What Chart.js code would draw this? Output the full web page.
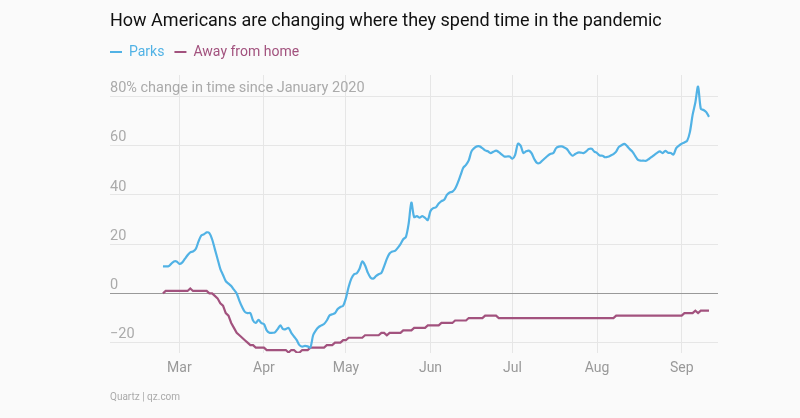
<!DOCTYPE html>
<html>
<head>
<meta charset="utf-8">
<script src="https://cdn.jsdelivr.net/npm/chart.js@4.4.1/dist/chart.umd.min.js"></script>
<style>
  html, body { margin: 0; background: #fafafa; }
  #wrap { width: 800px; height: 418px; }
</style>
</head>
<body>
<div id="wrap"><canvas id="chart"></canvas></div>
<script>
// daily values, first point is Feb 24 2020
const firstDate = '2020-02-24';
const parks = [
  11, 11, 11, 12, 13, 13,
  12, 12.5, 14, 15.5, 16.7, 17, 18, 21, 23.5, 24,
  24.8, 24.5, 22, 18, 14, 10, 7.5, 5, 4, 3,
  1.5, 0, -3, -5.5, -7.5, -8, -8, -11, -12, -10.7,
  -12, -12.5, -15, -16, -16, -15.8, -14.5, -13, -14.5, -14.5,
  -14, -16, -17.5, -19, -21, -21.6, -21.3, -21.5, -22, -17,
  -15, -13.7, -13, -12.4, -11, -9, -8.5, -8, -6.3, -5.5,
  -5, -2, 2.6, 6, 7.8, 8.2, 10, 13, 11.4, 8.5,
  6.5, 6, 7, 7.8, 8.3, 11, 14, 16.2, 17, 17.3,
  18.5, 20, 22, 23, 28.4, 36.9, 31, 31.4, 30.8, 31.4,
  30.7, 29.8, 33.5, 34.6, 35, 36.5, 37.5, 38, 40, 41,
  41.3, 42.5, 45, 48, 51, 52.2, 54, 57.7, 59, 59.7,
  59.7, 59, 58.1, 57.7, 57, 57.5, 58, 57.4, 56.5, 55.6,
  55.6, 55.6, 54.7, 56.3, 60.8, 60, 57, 57.7, 58, 57,
  54.6, 53, 53, 54, 55, 56, 56.7, 57, 59, 59.6,
  59.7, 59.3, 58.6, 57, 55.9, 56.6, 57.2, 57.2, 57, 57.7,
  58.6, 58.7, 57.6, 57, 56, 55.9, 55.3, 55.5, 56, 56.6,
  57.6, 59.5, 60.2, 60.7, 59.8, 58.6, 57.5, 55.8, 54.2, 53.9,
  53.9, 53.9, 54.6, 55.4, 56.3, 57.1, 57.7, 57, 57.9, 57.1,
  57, 56.4, 59, 60, 60.8, 61.3, 62, 65.5, 72.5, 77.5,
  84, 75, 74.5, 73.6, 71.7
];
const awayFromHome = [
  0, 1, 1, 1, 1, 1,
  1, 1, 1, 1, 2, 1, 1, 1, 1, 1,
  1, 0, 0, -1, -2, -4, -5, -8, -9, -12,
  -14, -16, -17, -18, -19, -20, -21, -21, -22, -22,
  -22, -22, -23, -23, -23, -23, -23, -23, -23, -23,
  -24, -23, -23, -24, -24, -23, -23, -23, -22, -22,
  -22, -22, -22, -22, -21, -21, -21, -20, -20, -20,
  -19, -19, -18, -18, -18, -18, -18, -18, -17, -17,
  -17, -17, -17, -17, -16, -16, -17, -16, -16, -16,
  -16, -16, -15, -15, -15, -15, -14, -14, -14, -14,
  -14, -13, -13, -13, -13, -13, -12, -12, -12, -12,
  -12, -11, -11, -11, -11, -11, -10, -10, -10, -10,
  -10, -10, -9, -9, -9, -9, -9, -10, -10, -10,
  -10, -10, -10, -10, -10, -10, -10, -10, -10, -10,
  -10, -10, -10, -10, -10, -10, -10, -10, -10, -10,
  -10, -10, -10, -10, -10, -10, -10, -10, -10, -10,
  -10, -10, -10, -10, -10, -10, -10, -10, -10, -10,
  -9, -9, -9, -9, -9, -9, -9, -9, -9, -9,
  -9, -9, -9, -9, -9, -9, -9, -9, -9, -9,
  -9, -9, -9, -9, -9, -8, -8, -8, -8, -7,
  -8, -7, -7, -7, -7
];
const monthStarts = ['2020-03-01', '2020-04-01', '2020-05-01', '2020-06-01', '2020-07-01', '2020-08-01', '2020-09-01'];
const monthLabels = ['Mar', 'Apr', 'May', 'Jun', 'Jul', 'Aug', 'Sep'];
const yTicks = [-20, 0, 20, 40, 60, 80];
const yTickLabels = ['\u221220', '0', '20', '40', '60', '80% change in time since January 2020'];

const dayNum = s => Date.parse(s + 'T00:00:00Z') / 86400000;
const start = dayNum(firstDate);
const toPoints = vals => vals.map((v, i) => ({ x: start + i, y: v }));
const mar1 = dayNum('2020-03-01');

Chart.defaults.font.family = 'Roboto, "Liberation Sans", sans-serif';

// legend: a bit more room below it, and flush with the plot's left edge
const legendTweak = {
  id: 'legendTweak',
  beforeInit(chart) {
    const fit = chart.legend.fit;
    chart.legend.fit = function () {
      fit.call(this);
      this.height += 6;
    };
  },
  afterLayout(chart) {
    chart.legend.left -= 10;
  }
};

new Chart(document.getElementById('chart'), {
  type: 'line',
  data: {
    datasets: [
      { label: 'Parks', data: toPoints(parks), borderColor: '#51b2e5', borderWidth: 2.2, pointRadius: 0, tension: 0.3 },
      { label: 'Away from home', data: toPoints(awayFromHome), borderColor: '#a2527e', borderWidth: 2.2, pointRadius: 0, tension: 0 }
    ]
  },
  options: {
    responsive: true,
    maintainAspectRatio: false,
    animation: false,
    events: [],
    layout: { padding: { left: 110, right: 82, top: 0, bottom: 15 } },
    plugins: {
      title: {
        display: true,
        text: 'How Americans are changing where they spend time in the pandemic',
        align: 'start',
        color: '#111',
        font: { size: 18, weight: 'normal' },
        padding: { top: 11, bottom: 2.4 }
      },
      subtitle: {
        display: true,
        position: 'bottom',
        align: 'start',
        text: 'Quartz | qz.com',
        color: '#aaa',
        font: { size: 10, weight: 'normal' },
        padding: { top: 7.2, bottom: 0 }
      },
      legend: {
        position: 'top',
        align: 'start',
        labels: {
          usePointStyle: true,
          pointStyle: 'line',
          pointStyleWidth: 12,
          padding: 10,
          font: { size: 14 },
          generateLabels(chart) {
            const items = Chart.defaults.plugins.legend.labels.generateLabels(chart);
            items.forEach(it => { it.fontColor = it.strokeStyle; it.lineWidth = 2; });
            return items;
          }
        }
      },
      tooltip: { enabled: false }
    },
    scales: {
      x: {
        type: 'linear',
        min: mar1 - 25.4,
        max: mar1 + 197.3,
        grid: { color: '#e6e6e6', drawTicks: false },
        border: { display: false },
        afterBuildTicks: axis => { axis.ticks = monthStarts.map(s => ({ value: dayNum(s) })); },
        ticks: {
          autoSkip: false,
          maxRotation: 0,
          padding: 7,
          color: '#999',
          font: { size: 14 },
          callback: (value, i) => monthLabels[i]
        }
      },
      y: {
        min: -24.2,
        max: 88.7,
        grid: {
          color: ctx => (ctx.tick && ctx.tick.value === 0 ? '#999' : '#e6e6e6'),
          drawTicks: false
        },
        border: { display: false },
        afterBuildTicks: axis => { axis.ticks = yTicks.map(v => ({ value: v })); },
        ticks: {
          mirror: true,
          padding: 0,
          labelOffset: -8,
          color: '#aaa',
          font: { size: 14.5 },
          callback: (value, i) => yTickLabels[i]
        }
      }
    }
  },
  plugins: [legendTweak]
});
</script>
</body>
</html>
